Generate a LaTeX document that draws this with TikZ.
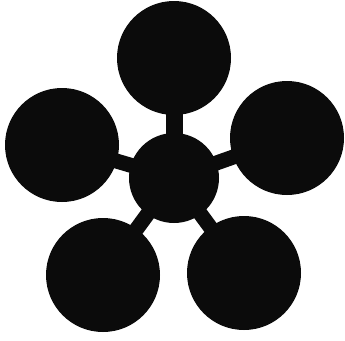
\documentclass[tikz,border=0pt]{standalone}
\usepackage{tikz}
\usetikzlibrary{positioning}
\definecolor{mInk}{HTML}{0B0B0B}

\begin{document}
\begin{tikzpicture}[x=1pt, y=-1pt,
  petal/.style={circle, fill=mInk, inner sep=0pt, minimum size=114pt},
  hub/.style={circle, fill=mInk, inner sep=0pt, minimum size=90pt},
  stem/.style={mInk, line width=15pt, shorten <=-3pt, shorten >=-3pt}]
\useasboundingbox (0,0) rectangle (345,340);
\node[hub] (core) at (174,178) {};
\node[petal] (top) at (174,58) {};
\node[petal] (left) at (62,145) {};
\node[petal] (right) at (287,138) {};
\node[petal] (lowleft) at (103,275) {};
\node[petal] (lowright) at (244,273) {};
\draw[stem, line width=17pt] (core) -- (top);
\draw[stem] (core) -- (left);
\draw[stem] (core) -- (right);
\draw[stem] (core) -- (lowleft);
\draw[stem] (core) -- (lowright);
\end{tikzpicture}
\end{document}
